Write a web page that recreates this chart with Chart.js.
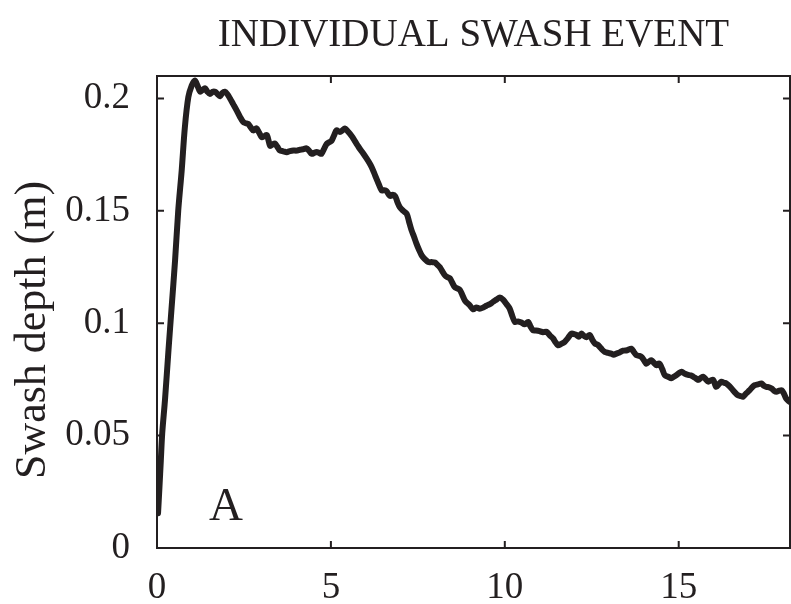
<!DOCTYPE html>
<html>
<head>
<meta charset="utf-8">
<script src="https://cdn.jsdelivr.net/npm/chart.js@4.4.1/dist/chart.umd.min.js"></script>
<style>
  html, body { margin: 0; padding: 0; background: #fff; }
  canvas { display: block; }
</style>
</head>
<body>
<canvas id="swashChart" width="791" height="604"></canvas>
<script>
// Data: time (s) vs swash depth (m)
const timeS = [0.03,0.07,0.11,0.15,0.23,0.33,0.42,0.52,0.61,0.71,0.80,0.90,1.00,1.09,1.17,1.24,1.31,1.38,1.45,1.52,1.60,1.67,1.74,1.81,1.88,1.95,2.02,2.10,2.19,2.29,2.38,2.48,2.55,2.62,2.70,2.77,2.86,2.93,3.01,3.08,3.16,3.25,3.32,3.39,3.46,3.53,3.63,3.73,3.82,3.92,4.01,4.11,4.20,4.30,4.37,4.45,4.52,4.59,4.66,4.73,4.80,4.88,4.95,5.02,5.09,5.16,5.26,5.33,5.40,5.48,5.55,5.62,5.69,5.76,5.83,5.93,6.03,6.10,6.17,6.24,6.31,6.38,6.46,6.53,6.60,6.70,6.78,6.85,6.91,6.98,7.08,7.18,7.25,7.32,7.39,7.46,7.53,7.61,7.70,7.80,7.90,7.99,8.06,8.13,8.20,8.28,8.35,8.42,8.49,8.56,8.63,8.71,8.78,8.85,8.92,8.99,9.09,9.18,9.28,9.38,9.47,9.57,9.66,9.76,9.86,9.95,10.05,10.14,10.22,10.29,10.38,10.48,10.57,10.67,10.74,10.81,10.90,11.00,11.10,11.20,11.30,11.39,11.46,11.53,11.62,11.72,11.82,11.92,11.99,12.06,12.13,12.20,12.27,12.35,12.44,12.52,12.59,12.66,12.73,12.80,12.87,12.97,13.06,13.13,13.21,13.30,13.40,13.52,13.64,13.71,13.78,13.86,13.93,14.00,14.07,14.15,14.22,14.30,14.37,14.42,14.46,14.53,14.60,14.70,14.79,14.86,14.94,15.01,15.08,15.18,15.27,15.35,15.42,15.49,15.56,15.64,15.71,15.78,15.85,15.92,15.99,16.04,16.08,16.16,16.23,16.30,16.37,16.47,16.56,16.63,16.70,16.78,16.85,16.94,17.04,17.11,17.18,17.28,17.38,17.45,17.52,17.60,17.67,17.74,17.81,17.89,17.96,18.03,18.09,18.19];
const depthM = [0.0155,0.027,0.039,0.051,0.066,0.088,0.107,0.128,0.150,0.168,0.187,0.2005,0.2058,0.2080,0.2055,0.2030,0.2038,0.2045,0.2030,0.2020,0.2030,0.2030,0.2020,0.2010,0.2025,0.2030,0.2020,0.2000,0.1975,0.1947,0.1920,0.1895,0.1890,0.1887,0.1870,0.1858,0.1867,0.1850,0.1828,0.1832,0.1837,0.1790,0.1795,0.1800,0.1785,0.1769,0.1765,0.1761,0.1766,0.1769,0.1768,0.1772,0.1774,0.1778,0.1768,0.1754,0.1758,0.1762,0.1758,0.1754,0.1775,0.1798,0.1805,0.1812,0.1835,0.1858,0.1851,0.1858,0.1866,0.1855,0.1843,0.1828,0.1810,0.1793,0.1776,0.1755,0.1732,0.1715,0.1695,0.1670,0.1643,0.1617,0.1591,0.1592,0.1588,0.1566,0.1572,0.1565,0.1540,0.1517,0.1500,0.1487,0.1450,0.1413,0.1385,0.1354,0.1328,0.1302,0.1285,0.1272,0.1272,0.1270,0.1260,0.1250,0.1232,0.1213,0.1205,0.1200,0.1180,0.1161,0.1155,0.1148,0.1125,0.1102,0.1090,0.1080,0.1062,0.1070,0.1065,0.1070,0.1078,0.1085,0.1095,0.1105,0.1115,0.1105,0.1085,0.1065,0.1030,0.1006,0.1008,0.1003,0.0995,0.1006,0.0985,0.0969,0.0968,0.0965,0.0960,0.0962,0.0945,0.0932,0.0915,0.0902,0.0908,0.0917,0.0935,0.0954,0.0952,0.0948,0.0940,0.0954,0.0945,0.0938,0.0948,0.0925,0.0910,0.0905,0.0895,0.0882,0.0873,0.0868,0.0865,0.0860,0.0865,0.0870,0.0878,0.0880,0.0887,0.0872,0.0858,0.0855,0.0850,0.0835,0.0820,0.0830,0.0835,0.0822,0.0813,0.0820,0.0818,0.0795,0.0769,0.0762,0.0755,0.0762,0.0770,0.0778,0.0784,0.0775,0.0770,0.0768,0.0762,0.0755,0.0748,0.0757,0.0762,0.0750,0.0740,0.0745,0.0748,0.0730,0.0717,0.0730,0.0740,0.0735,0.0732,0.0718,0.0702,0.0690,0.0680,0.0676,0.0673,0.0688,0.0702,0.0715,0.0724,0.0728,0.0732,0.0722,0.0717,0.0715,0.0710,0.0700,0.0695,0.0700,0.0702,0.0685,0.0665,0.0650];

const xTicks = [0, 5, 10, 15];
const yTicks = [0, 0.05, 0.1, 0.15, 0.2];

const TITLE = 'INDIVIDUAL SWASH EVENT';
const Y_LABEL = 'Swash depth (m)';
const PANEL_LABEL = { text: 'A', x: 1.98, y: 0.0124 };

const INK = '#231f20';
const SERIF = "'Liberation Serif', 'Times New Roman', serif";

Chart.defaults.font.family = SERIF;
Chart.defaults.color = INK;

// MATLAB-style box with inward ticks, title, y label and panel letter
const framePlugin = {
    id: 'frame',
    afterDraw(chart) {
        const ctx = chart.ctx;
        const { left, right, top, bottom } = chart.chartArea;
        const xs = chart.scales.x, ys = chart.scales.y;
        const tick = 7;

        ctx.save();
        ctx.strokeStyle = INK;
        ctx.lineWidth = 2;
        ctx.strokeRect(left, top, right - left, bottom - top);

        ctx.beginPath();
        xTicks.forEach(v => {
            const px = xs.getPixelForValue(v);
            ctx.moveTo(px, bottom); ctx.lineTo(px, bottom - tick);
            ctx.moveTo(px, top); ctx.lineTo(px, top + tick);
        });
        yTicks.forEach(v => {
            const py = ys.getPixelForValue(v);
            ctx.moveTo(left, py); ctx.lineTo(left + tick, py);
            ctx.moveTo(right, py); ctx.lineTo(right - tick, py);
        });
        ctx.stroke();

        ctx.fillStyle = INK;
        ctx.textAlign = 'center';
        ctx.textBaseline = 'alphabetic';
        ctx.font = '39px ' + SERIF;
        ctx.fillText(TITLE, (left + right) / 2, 46);

        ctx.font = '47px ' + SERIF;
        ctx.fillText(PANEL_LABEL.text, xs.getPixelForValue(PANEL_LABEL.x), ys.getPixelForValue(PANEL_LABEL.y));

        // rotated axis label
        ctx.translate(45, 330);
        ctx.rotate(-Math.PI / 2);
        ctx.font = '44px ' + SERIF;
        ctx.fillText(Y_LABEL, 0, 0);
        ctx.restore();
    }
};

const tickFont = { family: SERIF, size: 37 };

new Chart(document.getElementById('swashChart'), {
    type: 'line',
    data: {
        datasets: [{
            data: timeS.map((t, i) => ({ x: t, y: depthM[i] })),
            borderColor: INK,
            borderWidth: 6,
            borderJoinStyle: 'round',
            borderCapStyle: 'round',
            pointRadius: 0,
            tension: 0.3,
            fill: false
        }]
    },
    options: {
        responsive: false,
        animation: false,
        layout: { padding: { top: 76, right: 1, left: 0, bottom: 0 } },
        plugins: {
            legend: { display: false },
            tooltip: { enabled: false },
            title: { display: false }
        },
        scales: {
            x: {
                type: 'linear',
                min: 0,
                max: 18.2,
                grid: { display: false },
                border: { display: false },
                afterBuildTicks: s => { s.ticks = xTicks.map(v => ({ value: v })); },
                afterFit: s => { s.height = 56; },
                ticks: {
                    font: tickFont,
                    color: INK,
                    padding: 10,
                    maxRotation: 0,
                    autoSkip: false,
                    callback: v => String(v)
                }
            },
            y: {
                min: 0,
                max: 0.21,
                grid: { display: false },
                border: { display: false },
                afterBuildTicks: s => { s.ticks = yTicks.map(v => ({ value: v })); },
                afterFit: s => { s.width = 157; },
                ticks: {
                    font: tickFont,
                    color: INK,
                    padding: 19,
                    autoSkip: false,
                    callback: v => String(v)
                }
            }
        }
    },
    plugins: [framePlugin]
});
</script>
</body>
</html>
